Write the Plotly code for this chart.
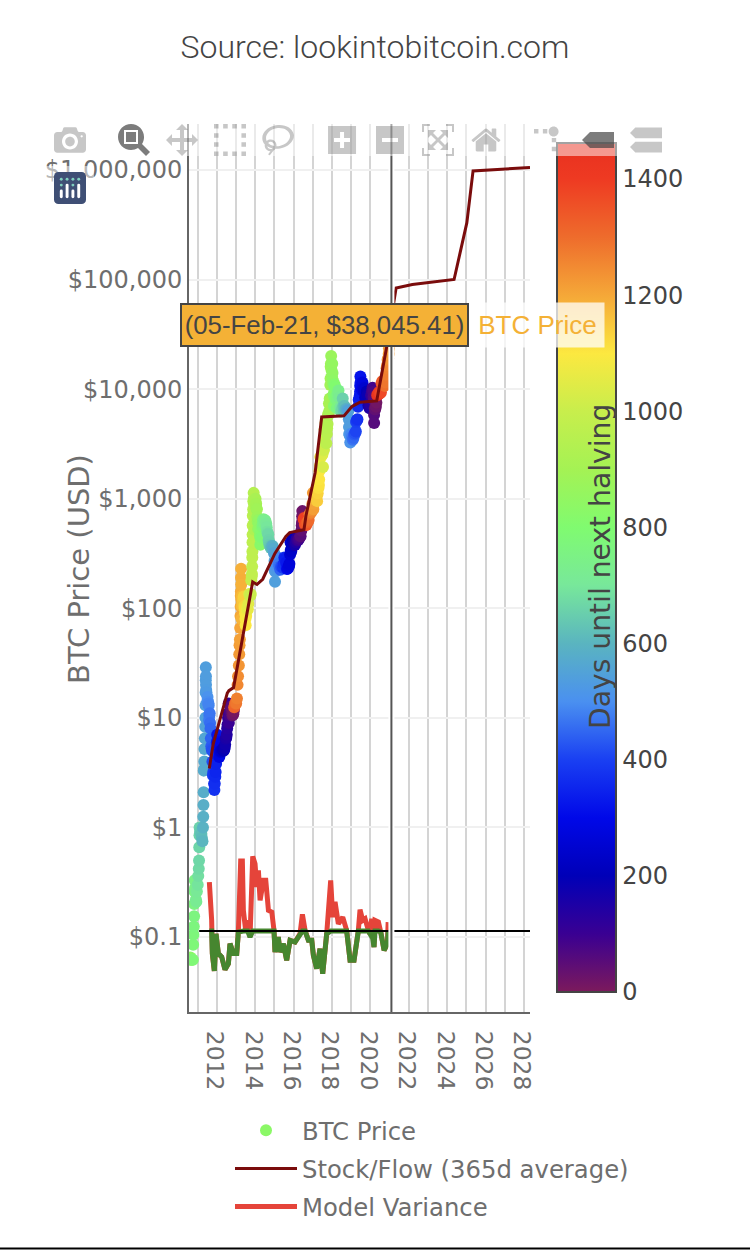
import plotly.graph_objects as go
import numpy as np

#BTC price
price_dates = [
    "2010-08-20","2010-09-01","2010-09-15","2010-10-05","2010-10-10","2010-10-15","2010-10-22","2010-10-28",
    "2010-11-01","2010-11-06","2010-11-10","2010-11-15","2010-12-01","2010-12-10","2010-12-20","2011-01-05",
    "2011-01-15","2011-01-25","2011-01-30","2011-02-03","2011-02-08","2011-02-10","2011-02-20","2011-03-01",
    "2011-03-15","2011-03-25","2011-04-05","2011-04-15","2011-04-20","2011-04-24","2011-04-27","2011-04-30",
    "2011-05-05","2011-05-10","2011-05-13","2011-05-20","2011-05-28","2011-06-01","2011-06-03","2011-06-05",
    "2011-06-07","2011-06-08","2011-06-10","2011-06-12","2011-06-15","2011-06-20","2011-07-05","2011-07-20",
    "2011-08-01","2011-08-08","2011-08-20","2011-09-05","2011-09-12","2011-09-20","2011-10-05","2011-10-12",
    "2011-10-20","2011-11-05","2011-11-12","2011-11-18","2011-12-05","2011-12-20","2011-12-28","2012-01-05",
    "2012-01-10","2012-01-25","2012-02-10","2012-02-20","2012-03-10","2012-04-01","2012-04-20","2012-05-10",
    "2012-06-01","2012-06-20","2012-07-10","2012-07-25","2012-08-03","2012-08-10","2012-08-16","2012-08-19",
    "2012-09-05","2012-09-25","2012-10-10","2012-10-25","2012-11-10","2012-11-25","2012-11-29","2012-12-15",
    "2013-01-05","2013-01-20","2013-02-01","2013-02-10","2013-02-25","2013-03-05","2013-03-10","2013-03-17",
    "2013-03-22","2013-03-28","2013-04-01","2013-04-03","2013-04-05","2013-04-07","2013-04-09","2013-04-11",
    "2013-04-13","2013-04-16","2013-04-20","2013-05-01","2013-05-20","2013-06-10","2013-06-25","2013-07-05",
    "2013-07-15","2013-07-25","2013-08-15","2013-09-10","2013-10-01","2013-10-20","2013-11-01","2013-11-05",
    "2013-11-08","2013-11-10","2013-11-12","2013-11-14","2013-11-16","2013-11-18","2013-11-25","2013-11-28",
    "2013-12-04","2013-12-07","2013-12-10","2013-12-14","2013-12-18","2013-12-22","2014-01-05","2014-01-15",
    "2014-01-25","2014-02-10","2014-02-25","2014-03-10","2014-03-25","2014-04-10","2014-04-20","2014-05-01",
    "2014-05-20","2014-06-01","2014-06-15","2014-07-01","2014-08-01","2014-08-20","2014-09-01","2014-09-15",
    "2014-10-01","2014-10-25","2014-11-20","2014-12-15","2015-01-01","2015-01-05","2015-01-10","2015-01-14",
    "2015-01-20","2015-01-25","2015-02-15","2015-03-10","2015-04-10","2015-05-10","2015-06-15","2015-07-10",
    "2015-08-15","2015-09-15","2015-10-15","2015-10-28","2015-11-05","2015-11-10","2015-12-01","2015-12-20",
    "2016-01-15","2016-02-15","2016-03-15","2016-04-15","2016-05-15","2016-05-28","2016-06-05","2016-06-13",
    "2016-06-16","2016-06-20","2016-06-25","2016-07-08","2016-07-12","2016-08-05","2016-09-01","2016-10-01",
    "2016-11-01","2016-12-01","2016-12-25","2017-01-04","2017-01-12","2017-02-01","2017-03-01","2017-03-25",
    "2017-04-20","2017-05-03","2017-05-10","2017-05-20","2017-05-25","2017-06-15","2017-07-15","2017-08-01",
    "2017-08-08","2017-08-15","2017-09-01","2017-09-15","2017-09-25","2017-10-01","2017-10-20","2017-11-05",
    "2017-11-20","2017-12-01","2017-12-05","2017-12-08","2017-12-12","2017-12-17","2017-12-22","2017-12-30",
    "2018-01-06","2018-01-20","2018-01-28","2018-02-02","2018-02-06","2018-02-20","2018-03-15","2018-04-05",
    "2018-05-05","2018-06-10","2018-07-05","2018-07-25","2018-08-15","2018-09-15","2018-10-15","2018-11-10",
    "2018-11-18","2018-11-21","2018-11-25","2018-12-15","2018-12-25","2019-01-05","2019-02-01","2019-03-01",
    "2019-04-01","2019-04-05","2019-05-01","2019-05-12","2019-05-25","2019-06-15","2019-06-20","2019-06-23",
    "2019-06-26","2019-06-29","2019-07-15","2019-08-05","2019-08-30","2019-09-25","2019-10-26","2019-11-25",
    "2019-12-18","2020-01-15","2020-02-13","2020-03-01","2020-03-09","2020-03-12","2020-03-13","2020-03-25",
    "2020-04-15","2020-05-01","2020-05-10","2020-05-12","2020-06-15","2020-07-20","2020-08-15","2020-09-15",
    "2020-10-15","2020-11-05","2020-11-25","2020-12-16","2020-12-20","2020-12-27","2021-01-02","2021-01-08",
    "2021-01-25","2021-02-05",
]
price_usd = [
    .065,.062,.062,.062,.085,.105,.125,.155,
    .20,.26,.33,.28,.22,.21,.26,.30,
    .36,.42,.5,.66,.85,1.0,.92,.9,
    .87,.8,.75,1.0,1.25,1.6,2.1,3.3,
    3.4,4.0,5.2,6.5,8.3,10,13,17,
    22,29,24,20,18,17,14,14,
    13,9.5,11,8,6.5,5.5,5,4,
    3,3,2.5,2.2,2.9,3.8,4.6,6,
    7,5.5,5.8,4.4,4.9,4.9,5.2,5.0,
    5.3,6.4,7.0,8.7,10,11,13.5,9,
    10.5,12.2,12,10.5,10.8,12.2,12.5,13.5,
    13.5,15,20,24,30,38,46,52,
    66,85,104,130,142,190,230,165,
    120,80,105,105,122,105,90,70,
    85,95,98,135,130,180,205,240,
    290,330,400,470,570,700,800,950,
    1130,1000,900,750,520,620,950,870,
    820,680,530,640,520,380,500,450,
    560,640,600,640,590,500,480,420,
    380,355,355,350,315,270,220,175,
    215,250,240,290,240,240,235,290,
    260,230,255,310,400,340,370,440,
    390,400,415,430,455,510,570,690,
    770,640,620,650,650,580,575,615,
    720,750,900,1130,800,970,1200,950,
    1250,1500,1800,2000,2400,2450,1950,2800,
    3400,4300,4900,3200,3900,4400,5900,7400,
    8200,10900,12500,16000,17000,20000,15000,13000,
    17000,12000,11000,9000,7000,11000,8000,6700,
    9700,6800,6500,8200,6300,6500,6400,6350,
    5300,4500,3900,3250,3900,3900,3450,3850,
    4100,5000,5300,6900,8000,8800,9500,10800,
    13000,11500,10500,11500,9600,8400,9500,7100,
    6700,8800,10300,8500,7900,5800,4900,6700,
    6900,8900,8700,8800,9400,9300,11800,10800,
    11500,15500,18500,21000,23500,26500,31000,40000,
    32500,38045.41,
]
days_to_halving = [
    831,819,805,785,780,775,768,762,
    758,753,749,744,728,719,709,693,
    683,673,668,664,659,657,647,638,
    624,614,603,593,588,584,581,578,
    573,568,565,558,550,546,544,542,
    540,539,537,535,532,527,512,497,
    485,478,466,449,443,435,420,413,
    405,389,382,376,359,344,336,328,
    323,308,292,283,263,241,222,202,
    180,161,141,126,117,110,104,101,
    84,64,49,34,18,3,1318,1302,
    1281,1266,1254,1245,1230,1222,1217,1210,
    1205,1199,1195,1193,1191,1189,1187,1185,
    1183,1180,1176,1165,1146,1125,1110,1100,
    1090,1080,1059,1033,1012,993,981,977,
    974,972,970,968,966,964,957,954,
    948,945,942,938,934,930,915,905,
    895,880,865,852,837,820,810,800,
    781,769,755,739,708,689,677,663,
    647,623,597,572,555,551,546,542,
    536,531,510,487,456,426,390,365,
    329,298,268,255,247,242,221,202,
    176,145,116,85,55,42,34,26,
    23,19,14,1,1399,1375,1348,1318,
    1287,1257,1233,1223,1215,1195,1167,1143,
    1117,1104,1097,1087,1082,1061,1031,1014,
    1007,1000,983,969,959,953,934,917,
    902,891,887,884,880,875,870,862,
    856,842,834,829,825,811,788,767,
    737,701,676,656,635,604,574,548,
    540,537,533,512,502,492,465,437,
    406,402,376,365,352,331,326,323,
    320,317,301,280,255,229,198,168,
    145,117,88,71,63,60,59,47,
    26,10,1,1437,1405,1370,1344,1313,
    1283,1262,1242,1221,1217,1210,1204,1198,
    1181,1170,
]
#more readings where the price band looks solid
fill_dates = [
    "2011-07-10","2011-07-28","2011-08-14","2011-08-28","2011-09-28","2011-10-28","2011-11-25","2011-12-12",
    "2012-01-18","2012-02-01","2012-03-01","2012-03-20","2012-04-10","2012-05-01","2012-05-20","2012-06-10",
    "2012-06-30","2012-07-18","2012-08-25","2012-09-15","2012-10-01","2012-10-18","2012-11-01","2012-11-18",
    "2013-04-25","2013-05-10","2013-05-30","2013-06-18","2013-07-01","2013-08-01","2013-08-25","2013-09-25",
    "2013-10-10","2013-10-28","2014-01-08","2014-01-20","2014-02-03","2014-02-18","2014-03-03","2014-03-18",
    "2014-04-02","2014-04-15","2014-05-10","2014-05-26","2014-06-08","2014-06-22","2014-07-15","2014-08-10",
    "2014-09-08","2014-09-22","2014-10-12","2014-11-08","2014-12-01","2014-12-28","2015-02-01","2015-02-25",
    "2015-03-25","2015-04-25","2015-05-25","2015-06-28","2015-07-25","2015-08-01","2015-08-28","2015-09-28",
    "2015-10-08","2015-11-18","2015-12-10","2015-12-28","2016-01-01","2016-01-28","2016-03-01","2016-04-01",
    "2016-05-01","2016-06-10","2016-07-02","2016-07-20","2016-08-20","2016-09-15","2016-10-15","2016-11-15",
    "2016-12-15","2017-01-08","2017-01-20","2017-02-15","2017-03-10","2017-03-18","2017-04-05","2017-04-28",
    "2017-06-01","2017-06-25","2017-07-05","2017-07-22","2017-08-25","2017-09-08","2017-10-10","2017-10-28",
    "2017-11-12","2018-01-12","2018-02-12","2018-02-28","2018-03-25","2018-04-15","2018-04-25","2018-05-20",
    "2018-06-25","2018-07-15","2018-08-05","2018-08-28","2018-10-01","2018-10-28","2018-12-05","2019-01-18",
    "2019-02-15","2019-03-15","2019-04-18","2019-06-05","2019-07-02","2019-07-25","2019-08-18","2019-09-10",
    "2019-10-10","2019-11-08","2019-12-05","2019-12-30","2020-01-30","2020-02-25","2020-04-01","2020-04-25",
    "2020-05-25","2020-06-30","2020-08-01","2020-08-28","2020-10-01","2020-10-28","2020-11-15","2020-12-05",
]
fill_usd = [
    15.5,13.5,10.5,9,5.2,3.2,2.5,3.2,
    6.3,6,4.9,5,5,5.1,5.1,5.7,
    6.6,8,10.5,11.5,12.7,11.5,11,11.5,
    130,115,128,100,80,100,110,130,
    135,195,1000,900,800,620,600,580,
    460,430,440,590,650,590,630,550,
    470,400,370,370,370,320,225,255,
    255,225,237,255,285,280,228,238,
    245,330,415,425,430,378,430,420,
    450,600,680,665,575,610,640,740,
    780,900,900,1040,1200,1050,1120,1330,
    2400,2500,2550,2750,4300,4200,4800,5800,
    6300,14000,8500,10500,8700,8000,9000,8400,
    6200,6300,7000,7000,6600,6400,3800,3650,
    3600,3950,5200,8200,10500,9800,10300,10200,
    8400,8900,7300,7300,9500,9500,6500,7500,
    9000,9100,11300,11600,10700,13500,16500,19000,
]
fill_days = [
    507,489,472,458,427,397,369,352,
    315,301,272,253,231,211,192,171,
    151,133,95,74,58,41,27,10,
    1171,1156,1136,1117,1104,1073,1049,1018,
    1003,985,912,900,887,872,859,844,
    828,815,791,775,762,748,725,699,
    670,656,636,609,586,559,524,500,
    472,441,411,377,350,343,316,285,
    275,234,212,194,190,163,130,99,
    69,29,7,1391,1360,1334,1304,1273,
    1243,1219,1207,1181,1158,1150,1132,1109,
    1075,1051,1041,1024,989,976,944,926,
    910,850,819,803,778,757,747,722,
    686,666,645,622,588,561,522,479,
    451,423,389,341,314,291,267,244,
    214,185,158,133,102,76,40,16,
    1424,1390,1358,1330,1297,1270,1252,1232,
]
assert len(price_dates)==len(price_usd)==len(days_to_halving)
assert len(fill_dates)==len(fill_usd)==len(fill_days)

#Stock/Flow 365d average
sf_dates = ["2011-08-13","2011-10-27","2012-07-20","2012-08-20","2012-11-17","2013-11-15","2014-02-05",
            "2014-05-25","2015-01-12","2015-08-08","2015-10-20","2016-07-18","2016-08-25","2017-02-15",
            "2017-06-20","2017-10-20","2018-08-18","2019-01-12","2019-06-17","2020-05-01","2020-11-07",
            "2021-05-05","2022-03-10","2024-05-12","2025-01-10","2025-05-08","2028-04-25"]
sf_values = [3.45,5.8,16.8,17.7,18.9,174,165,184,317,453,490,522,700,1726,5560,5590,5700,6900,7600,7800,
             24200,83600,90000,100000,330000,980000,1050000]

#Model variance
var_dates = ["2011-08-14","2011-09-27","2011-10-10","2011-11-17","2011-12-19","2012-02-01","2012-04-05","2012-06-07",
             "2012-08-10","2012-09-10","2012-11-13","2013-01-16","2013-02-16","2013-04-01","2013-05-03","2013-05-22",
             "2013-07-05","2013-08-12","2013-09-26","2013-11-16","2013-12-30","2014-01-31","2014-03-04","2014-04-05",
             "2014-06-08","2014-07-22","2014-09-11","2014-11-14","2014-12-26","2015-01-14","2015-03-18","2015-04-19",
             "2015-06-22","2015-08-24","2015-10-27","2016-01-30","2016-05-04","2016-06-18","2016-08-08","2016-10-10",
             "2016-12-13","2017-01-13","2017-03-17","2017-05-19","2017-07-09","2017-09-23","2017-12-08","2018-01-16",
             "2018-03-01","2018-05-03","2018-07-25","2018-10-08","2018-12-11","2019-02-25","2019-05-18","2019-06-19",
             "2019-08-09","2019-09-23","2019-11-25","2019-12-26","2020-01-27","2020-03-11","2020-03-30","2020-06-03",
             "2020-07-17","2020-09-19","2020-11-21","2020-12-05"]
var_values = [0.317,0.142,0.0706,0.049,0.107,0.0706,0.0658,0.0504,
              0.0572,0.087,0.0706,0.0706,0.111,0.493,0.493,0.175,
              0.115,0.142,0.100,0.544,0.466,0.286,0.406,0.216,
              0.329,0.329,0.175,0.169,0.115,0.073,0.100,0.073,
              0.087,0.0613,0.0933,0.090,0.107,0.161,0.115,0.0933,
              0.0933,0.068,0.0515,0.0783,0.0463,0.107,0.329,0.152,
              0.209,0.132,0.152,0.115,0.0613,0.0613,0.115,0.178,
              0.142,0.147,0.115,0.107,0.147,0.081,0.142,0.137,
              0.111,0.0757,0.087,0.137]

level_dates = ["2011-02-01","2028-04-25"]
level_values = [0.1134,0.1134]

halving_colorscale = [
    [0.0,"#7c1a5c"],[0.068,"#3a0092"],[0.137,"#0000b8"],[0.205,"#0008e8"],[0.274,"#1a40f2"],
    [0.342,"#4a90f0"],[0.41,"#5ab4c0"],[0.48,"#78e89a"],[0.547,"#80fb70"],[0.615,"#a4f254"],
    [0.684,"#c8ee4c"],[0.752,"#fce840"],[0.82,"#f5a838"],[0.889,"#ee6c2c"],[0.958,"#ee3a22"],[1.0,"#e83020"],
]
year_labels = ["$0.1","$1","$10","$100","$1,000","$10,000","$100,000","$1,000,000"]
year_vals = [0.1,1,10,100,1000,10000,100000,1000000]
SANS = "DejaVu Sans"
GREY = "#6e6e6e"

#pixel helpers, the plot box is 189-530 by 124-1012
def px(v): return (v-189)/341
def py(v): return (1012-v)/888

#merge both sets of readings in date order
all_dates = price_dates+fill_dates
order = sorted(range(len(all_dates)),key=lambda i: all_dates[i])
x_price = [all_dates[i] for i in order]
y_price = [(price_usd+fill_usd)[i] for i in order]
c_price = [(days_to_halving+fill_days)[i] for i in order]

fig = go.Figure()
fig.add_trace(go.Scatter(x=x_price,y=y_price,mode="markers",name="BTC Price",legendgroup="a",
    marker=dict(size=12,color=c_price,cmin=0,cmax=1462,colorscale=halving_colorscale,showscale=True,
        colorbar=dict(lenmode="pixels",len=849,thicknessmode="pixels",thickness=59,x=px(557),xanchor="left",xpad=0,
            y=py(143),yanchor="top",ypad=0,outlinecolor="#444",outlinewidth=2,tickvals=[0,200,400,600,800,1000,1200,1400],
            ticks="",tickfont=dict(family=SANS,size=24,color="#444"),title=dict(text="")))))
fig.add_trace(go.Scatter(x=sf_dates,y=sf_values,mode="lines",name="Stock/Flow (365d average)",legendgroup="b",
    line=dict(color="#7a0c0c",width=3)))
fig.add_trace(go.Scatter(x=var_dates,y=var_values,mode="lines",name="Model Variance",legendgroup="c",
    line=dict(color="#e5443a",width=5)))
fig.add_trace(go.Scatter(x=var_dates,y=np.minimum(var_values,level_values[0]),mode="lines",showlegend=False,
    line=dict(color="#46862f",width=5)))
fig.add_trace(go.Scatter(x=level_dates,y=level_values,mode="lines",showlegend=False,
    line=dict(color="#000000",width=2)))

fig.update_layout(
    width=750,height=1250,margin=dict(l=189,r=220,t=124,b=238),
    paper_bgcolor="white",plot_bgcolor="white",hovermode="closest",dragmode="zoom",
    font=dict(family=SANS,color=GREY),
    title=dict(text="Source: lookintobitcoin.com",xref="container",x=0.5,xanchor="center",y=1-47/1250,yanchor="middle",
        font=dict(family="Roboto Light, Roboto",size=32,color="#444",weight=300)),
    xaxis=dict(type="date",range=["2010-07-23","2028-04-25"],dtick="M24",tick0="2012-01-01",tickformat="%Y",tickangle=90,
        tickfont=dict(size=23.5,color=GREY),ticklabelstandoff=12,ticklabelshift=-2,
        gridcolor="#d4d4d4",gridwidth=2,showline=True,linecolor="#666",linewidth=2,
        zeroline=False,minor=dict(dtick="M12",showgrid=True,gridcolor="#d4d4d4",gridwidth=2)),
    yaxis=dict(type="log",range=[-1.684,6.419],tickvals=year_vals,ticktext=year_labels,tickfont=dict(size=24,color=GREY),
        gridcolor="#f0f0f0",gridwidth=2,showline=True,linecolor="#666",linewidth=2,zeroline=False),
    legend=dict(x=px(230),xanchor="left",y=py(1108),yanchor="top",itemwidth=62,tracegroupgap=3.5,
        font=dict(size=24.3,color=GREY),bgcolor="rgba(0,0,0,0)"),
    modebar=dict(bgcolor="rgba(255,255,255,0.5)",color="rgba(68,68,68,0.3)",activecolor="rgba(68,68,68,0.7)"),
    shapes=[
        dict(type="line",xref="x",yref="paper",x0="2021-02-05",x1="2021-02-05",y0=0,y1=1,line=dict(color="white",width=6)),
        dict(type="line",xref="x",yref="paper",x0="2021-02-05",x1="2021-02-05",y0=0,y1=1,line=dict(color="#555",width=2)),
        dict(type="line",xref="paper",yref="paper",x0=px(0),x1=px(750),y0=py(1248.5),y1=py(1248.5),line=dict(color="#000",width=2)),
    ],
    annotations=[
        dict(text="BTC Price (USD)",xref="paper",yref="paper",x=px(79),xanchor="center",y=py(569),yanchor="middle",
            textangle=-90,showarrow=False,font=dict(family=SANS,size=29,color=GREY)),
        dict(text="Days until next halving",xref="paper",yref="paper",x=px(600),xanchor="center",y=py(567),yanchor="middle",
            textangle=-90,showarrow=False,font=dict(family=SANS,size=28.2,color="#444")),
        dict(text="BTC Price",xref="paper",yref="paper",x=px(470),xanchor="left",y=py(325),yanchor="middle",showarrow=False,
            bgcolor="rgba(255,255,255,0.75)",width=133,height=44,borderpad=0,
            font=dict(family="Liberation Sans",size=26,color="#f4b136")),
        dict(text="(05-Feb-21, $38,045.41)",xref="paper",yref="paper",x=px(180),xanchor="left",y=py(325),yanchor="middle",
            showarrow=False,bgcolor="#f4b136",bordercolor="#444",borderwidth=2,width=283,height=38,borderpad=1,
            font=dict(family="Liberation Sans",size=25.8,color="#444")),
    ],
)

#the modebar in the reference is drawn at double size and wraps the logo onto a second row
modebar_css = """
var s=document.createElement('style');
s.innerHTML='body{margin:0!important}'
+'.js-plotly-plot .plotly .modebar{top:118px!important;left:30px!important;right:auto!important;transform:scale(2);transform-origin:0 0;width:322px;}'
+'.js-plotly-plot .plotly .modebar-group{height:18.5px;}'
+'.js-plotly-plot .plotly .modebar-group:last-child{margin-top:5px;}'
+'.modebar-btn--logo svg rect{fill:#3f4f75!important}.modebar-btn--logo svg circle{fill:#80cfbe!important}.modebar-btn--logo svg path{fill:#fff!important}';
document.head.appendChild(s);
"""
config = dict(displayModeBar=True,displaylogo=True,modeBarButtons=[
    ["toImage"],
    ["zoom2d","pan2d","select2d","lasso2d"],
    ["zoomIn2d","zoomOut2d","autoScale2d","resetScale2d"],
    ["toggleSpikelines","hoverClosestCartesian","hoverCompareCartesian"],
])
fig.write_html("out.html",config=config,post_script=modebar_css)
